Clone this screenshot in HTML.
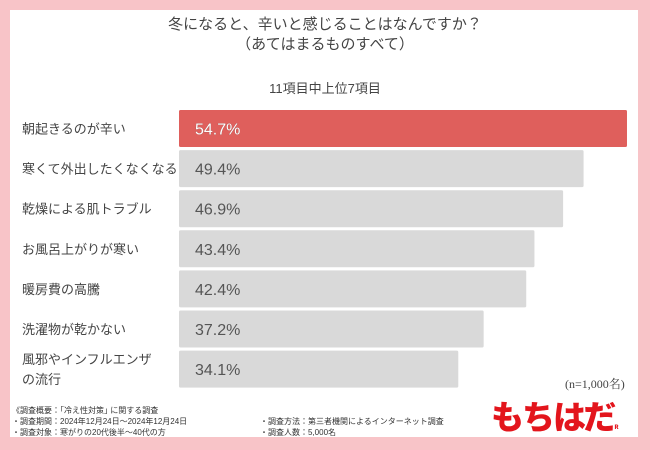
<!DOCTYPE html>
<html><head><meta charset="utf-8">
<style>
*{margin:0;padding:0;box-sizing:border-box}
body{width:650px;height:450px;background:#f8c4c8;font-family:"Liberation Sans","Noto Sans CJK JP",sans-serif;position:relative;overflow:hidden}
#panel{position:absolute;left:10px;top:10px;width:628px;height:427px;background:#fff}
.t{position:absolute;white-space:nowrap;color:#444}
</style></head><body>
<div id="panel"></div>
<div class="t" style="left:0;width:650px;text-align:center;top:15px;font-size:15px;line-height:20px;color:#444">冬になると、辛いと感じることはなんですか？<br>（あてはまるものすべて）</div>
<div class="t" style="left:0;width:650px;text-align:center;top:78px;font-size:13px;color:#444">11項目中上位7項目</div>
<svg id="chart" width="650" height="450" style="position:absolute;left:0;top:0"></svg>
<div class="t" style="left:565px;top:375px;font-size:12px;font-family:'Liberation Serif','Noto Serif CJK SC',serif;color:#444">(n=1,000名)</div>
<div class="t" style="left:12px;top:405px;font-size:8px;line-height:11px;color:#333">《調査概要：｢冷え性対策｣ に関する調査<br>・調査期間：2024年12月24日～2024年12月24日<br>・調査対象：寒がりの20代後半～40代の方</div>
<div class="t" style="left:260px;top:416px;font-size:8px;line-height:11px;color:#333">・調査方法：第三者機関によるインターネット調査<br>・調査人数：5,000名</div>
<div class="t" style="left:491px;top:391px;font-size:33px;font-weight:900;color:#e3151c;letter-spacing:-2px;font-family:'Noto Sans CJK JP',sans-serif">もちはだ<span style="font-size:6px;letter-spacing:0">R</span></div>
<script>
const categories=["朝起きるのが辛い","寒くて外出したくなくなる","乾燥による肌トラブル","お風呂上がりが寒い","暖房費の高騰","洗濯物が乾かない","風邪やインフルエンザ|の流行"];
const values=[54.7,49.4,46.9,43.4,42.4,37.2,34.1];
const valueLabels=["54.7%","49.4%","46.9%","43.4%","42.4%","37.2%","34.1%"];
const svg=document.getElementById('chart');
const NS='http://www.w3.org/2000/svg';
const x0=179,pxPer=8.19;
function xw(v){return v*pxPer;}
function yb(i){return 110+i*40.1;}
const bh=37;
categories.forEach((c,i)=>{
  const r=document.createElementNS(NS,'rect');
  
  
  r.setAttribute('x',x0);r.setAttribute('y',yb(i));
  r.setAttribute('width',xw(values[i]));r.setAttribute('height',bh);
  r.setAttribute('rx',1.5);
  r.setAttribute('fill',i===0?'#df5f5c':'#d9d9d9');
  svg.appendChild(r);
  const t=document.createElementNS(NS,'text');
  
  
  t.setAttribute('x',x0+16);t.setAttribute('y',yb(i)+bh/2+6);
  t.setAttribute('font-size','16');
  t.setAttribute('font-family','Liberation Sans, sans-serif');
  if(i===0){t.setAttribute('fill','#fff');t.setAttribute('stroke','#9a5050');t.setAttribute('stroke-width','0.5');t.setAttribute('paint-order','stroke');}
  else t.setAttribute('fill','#555');
  t.textContent=valueLabels[i];
  svg.appendChild(t);
  const lines=c.split('|');
  lines.forEach((ln,j)=>{
    const l=document.createElementNS(NS,'text');
    
    
    l.setAttribute('x',22);
    const cy=yb(i)+bh/2+5+(lines.length>1?(j-0.5)*20:0);
    l.setAttribute('y',cy);
    l.setAttribute('font-size','13');
    l.setAttribute('fill','#444');
    l.setAttribute('font-family','Liberation Sans, Noto Sans CJK JP, sans-serif');
    l.textContent=ln;
    svg.appendChild(l);
  });
});
</script>
</body></html>
